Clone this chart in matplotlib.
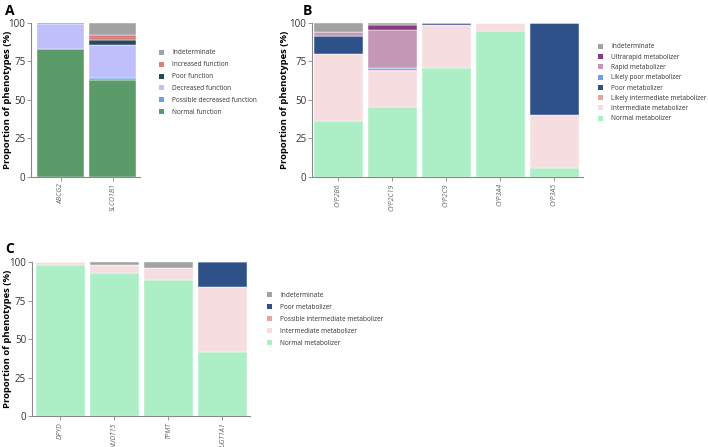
import numpy as np
import matplotlib.pyplot as plt
from matplotlib.patches import Patch

plt.rcParams['font.family'] = ['Open Sans', 'DejaVu Sans']

# Panel A - transporters
genes_a = ['ABCG2', 'SLCO1B1']
cats_a = ['Normal function', 'Possible decreased function', 'Decreased function',
          'Poor function', 'Increased function', 'Indeterminate']
normal_fn = [82.7, 62.7]
possible_dec_fn = [0.0, 1.5]
decreased_fn = [16.2, 21.1]
poor_fn = [1.1, 3.4]
increased_fn = [0.0, 3.5]
indet_a = [0.0, 7.8]
colors_a = ['#5a9b69', '#6c9ff0', '#bfbffc', '#27495a', '#e27c7a', '#a2a2a5']

# Panel B - CYPs
genes_b = ['CYP2B6', 'CYP2C19', 'CYP2C9', 'CYP3A4', 'CYP3A5']
cats_b = ['Normal metabolizer', 'Intermediate metabolizer', 'Likely intermediate metabolizer',
          'Poor metabolizer', 'Likely poor metabolizer', 'Rapid metabolizer',
          'Ultrarapid metabolizer', 'Indeterminate']
normal_b = [36.3, 45.4, 70.4, 94.6, 6.0]
intermediate_b = [43.2, 23.0, 27.9, 5.4, 34.0]
likely_int_b = [0.0, 0.8, 0.0, 0.0, 0.0]
poor_b = [12.1, 0.8, 1.3, 0.0, 60.0]
likely_poor_b = [0.0, 0.6, 0.0, 0.0, 0.0]
rapid_b = [2.4, 24.5, 0.0, 0.0, 0.0]
ultrarapid_b = [0.0, 3.5, 0.0, 0.0, 0.0]
indet_b = [6.0, 1.4, 0.4, 0.0, 0.0]
colors_b = ['#aceec5', '#f5dde0', '#e9a2a2', '#2f5189', '#6c9ff0', '#c498b5', '#8b3a82', '#a2a2a5']

# Panel C - others
genes_c = ['DPYD', 'NUDT15', 'TPMT', 'UGT1A1']
cats_c = ['Normal metabolizer', 'Intermediate metabolizer', 'Possible intermediate metabolizer',
          'Poor metabolizer', 'Indeterminate']
normal_c = [98.3, 93.1, 88.7, 41.8]
intermediate_c = [1.7, 5.0, 7.8, 42.0]
possible_int_c = [0.0, 0.0, 0.0, 0.0]
poor_c = [0.0, 0.0, 0.0, 16.2]
indet_c = [0.0, 1.9, 3.5, 0.0]
colors_c = ['#aceec5', '#f5dde0', '#e9a2a2', '#2f5189', '#a2a2a5']


def stacked(ax, genes, series, cats, colors, xlim, legend_pos, label_x, spacing=0.75):
    x = np.arange(len(genes))
    bottom = np.zeros(len(genes))
    for vals, c in zip(series, colors):
        ax.bar(x, vals, 0.9, bottom=bottom, color=c, edgecolor='white', linewidth=0.3)
        bottom += np.array(vals)
    ax.set_xlim(*xlim)
    ax.set_ylim(0, 100)
    ax.set_yticks([0, 25, 50, 75, 100])
    ax.set_xticks(x)
    ax.set_xticklabels(genes, rotation=90, fontstyle='italic', fontsize=5.0)
    ax.tick_params(axis='y', labelsize=7, length=3, width=0.6, pad=1, color='#888888')
    ax.tick_params(axis='x', length=3, width=0.6, pad=1.5, color='#888888')
    for t in ax.get_xticklabels():
        t.set_color('#666666')
    for t in ax.get_yticklabels():
        t.set_color('#333333')
    ax.spines['top'].set_visible(False)
    ax.spines['right'].set_visible(False)
    for s in ['left', 'bottom']:
        ax.spines[s].set_color('#888888')
        ax.spines[s].set_linewidth(0.8)
    ax.set_ylabel('Proportion of phenotypes (%)', fontsize=6.8, fontweight='bold', va='center')
    ax.yaxis.set_label_coords(label_x, 0.5)
    handles = [Patch(facecolor=c, label=l) for l, c in zip(cats, colors)][::-1]
    leg = ax.legend(handles=handles, loc='upper left', bbox_to_anchor=legend_pos,
                    bbox_transform=fig.transFigure, frameon=False, fontsize=4.7,
                    handlelength=0.8, handleheight=0.8, handletextpad=1.2,
                    labelspacing=spacing, borderaxespad=0, borderpad=0)
    for t in leg.get_texts():
        t.set_color('#333333')


fig = plt.figure(figsize=(7.08, 4.47), dpi=100)

ax_a = fig.add_axes([31 / 708, 1 - 177 / 447, 109 / 708, 154.3 / 447])
stacked(ax_a, genes_a,
        [normal_fn, possible_dec_fn, decreased_fn, poor_fn, increased_fn, indet_a],
        cats_a, colors_a, (-0.57, 1.52), (159 / 708, 1 - 49.5 / 447), -0.215, 0.75)

ax_b = fig.add_axes([312 / 708, 1 - 177 / 447, 271 / 708, 154.3 / 447])
stacked(ax_b, genes_b,
        [normal_b, intermediate_b, likely_int_b, poor_b, likely_poor_b, rapid_b,
         ultrarapid_b, indet_b],
        cats_b, colors_b, (-0.49, 4.53), (598 / 708, 1 - 43.5 / 447), -0.103, 0.5)

ax_c = fig.add_axes([31.7 / 708, 1 - 416.3 / 447, 218.3 / 708, 154 / 447])
stacked(ax_c, genes_c,
        [normal_c, intermediate_c, possible_int_c, poor_c, indet_c],
        cats_c, colors_c, (-0.53, 3.51), (267 / 708, 1 - 292 / 447), -0.113, 0.77)

fig.text(5 / 708, 1 - 15 / 447, 'A', fontsize=10, fontweight='bold')
fig.text(303 / 708, 1 - 15 / 447, 'B', fontsize=10, fontweight='bold')
fig.text(5 / 708, 1 - 253 / 447, 'C', fontsize=10, fontweight='bold')

fig.savefig('out.png', dpi=100)
